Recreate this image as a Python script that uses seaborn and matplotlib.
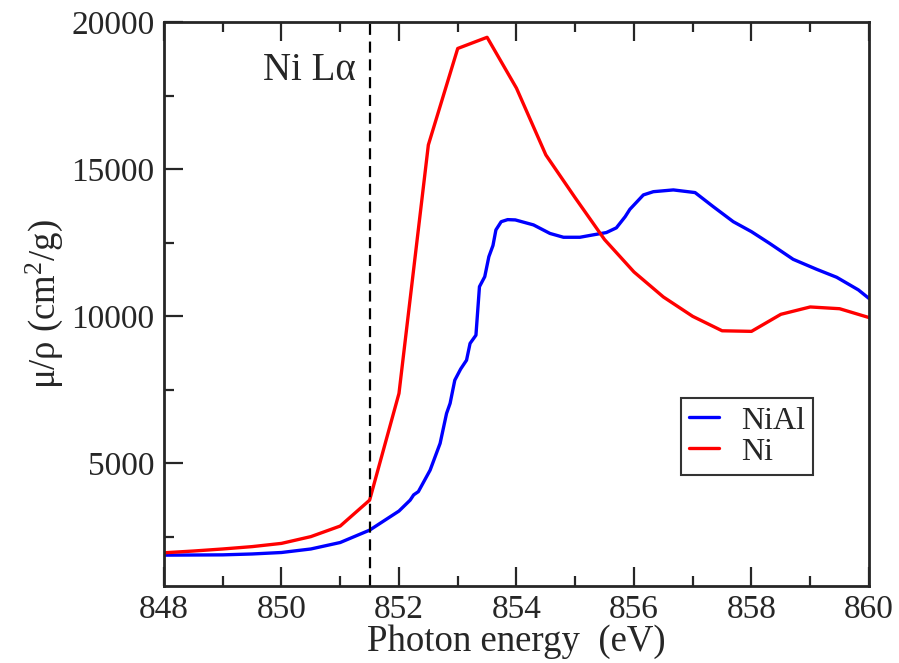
import numpy as np
import pandas as pd
import matplotlib
matplotlib.use("Agg")
import matplotlib.pyplot as plt
import seaborn as sns

# ---- data ----
ni_energy = [848.0, 848.5, 849.0, 849.5, 850.0, 850.5, 851.0, 851.5, 852.0, 852.5,
             853.0, 853.5, 854.0, 854.5, 855.0, 855.5, 856.0, 856.5, 857.0, 857.5,
             858.0, 858.5, 859.0, 859.5, 860.0]
ni_mu = [1950, 2010, 2080, 2160, 2270, 2500, 2860, 3740, 7370, 15820,
         19100, 19480, 17750, 15480, 14020, 12600, 11500, 10650, 9990, 9500,
         9480, 10060, 10310, 10250, 9950]

nial_energy = [848.0, 849.0, 849.5, 850.0, 850.5, 851.0, 851.5, 852.0, 852.19, 852.25,
               852.33, 852.53, 852.7, 852.81, 852.87, 852.95, 853.05, 853.15, 853.21, 853.31,
               853.37, 853.46, 853.53, 853.6, 853.65, 853.74, 853.85, 853.98, 854.29, 854.57,
               854.8, 855.08, 855.3, 855.53, 855.7, 855.85, 855.93, 856.16, 856.33, 856.67,
               857.04, 857.35, 857.69, 858.0, 858.31, 858.71, 859.11, 859.45, 859.82, 860.0]
nial_mu = [1870, 1880, 1910, 1960, 2080, 2300, 2720, 3370, 3740, 3920,
           4030, 4760, 5670, 6690, 7030, 7820, 8200, 8500, 9070, 9350,
           11000, 11340, 12020, 12400, 12930, 13210, 13280, 13270, 13100, 12810,
           12680, 12680, 12760, 12840, 13000, 13380, 13630, 14120, 14230, 14290,
           14200, 13720, 13210, 12870, 12470, 11930, 11590, 11320, 10890, 10600]

ni_la = 851.5
x_ticks = [848, 850, 852, 854, 856, 858, 860]
y_ticks = [5000, 10000, 15000, 20000]

# ---- style ----
sns.set_style("ticks")
plt.rcParams['font.family'] = ['Liberation Serif', 'DejaVu Serif']
plt.rcParams['mathtext.fontset'] = 'custom'
plt.rcParams['mathtext.rm'] = 'Liberation Serif'
plt.rcParams['mathtext.it'] = 'Liberation Serif:italic'

fig = plt.figure(figsize=(8.99, 6.63), dpi=100)
ax = fig.add_axes([0.1824, 0.1161, 0.7842, 0.8507])

df_nial = pd.DataFrame({"E": nial_energy, "mu": nial_mu})
df_ni = pd.DataFrame({"E": ni_energy, "mu": ni_mu})
sns.lineplot(data=df_nial, x="E", y="mu", color="#0000ff", lw=2.4, label="NiAl", ax=ax, sort=False)
sns.lineplot(data=df_ni, x="E", y="mu", color="#ff0000", lw=2.4, label="Ni", ax=ax, sort=False)

ax.axvline(ni_la, color="black", lw=1.6, ls=(0, (5, 3)))
ax.text(851.27, 18350, "Ni L\u03b1", fontsize=28, ha="right", va="center")

ax.set_xlim(848, 860)
ax.set_ylim(820, 20000)
ax.set_xticks(x_ticks)
ax.set_xticks(np.arange(849, 860, 2), minor=True)
ax.set_yticks(y_ticks)
ax.set_yticks([2500, 7500, 12500, 17500], minor=True)

ax.tick_params(which="major", direction="in", length=13.5, width=1.6, labelsize=24,
               top=True, right=False, pad=7)
ax.tick_params(which="minor", direction="in", length=7.5, width=1.6, top=True, right=False)
ax.tick_params(axis="x", pad=6)
for s in ax.spines.values():
    s.set_linewidth(2.0)
    s.set_visible(True)

ax.set_xlabel("Photon energy  (eV)", fontsize=26.5, labelpad=0)
ax.set_ylabel(r"μ/ρ (cm$^2$/g)", fontsize=26.5, labelpad=4)

leg = ax.legend(loc="upper left", bbox_to_anchor=(0.733, 0.333), fontsize=23,
                frameon=True, fancybox=False, edgecolor="black", handlelength=0.95,
                handletextpad=0.7, borderpad=0.25, labelspacing=0.05, borderaxespad=0)
leg.get_frame().set_linewidth(1.5)

fig.savefig("out.png", dpi=100)
